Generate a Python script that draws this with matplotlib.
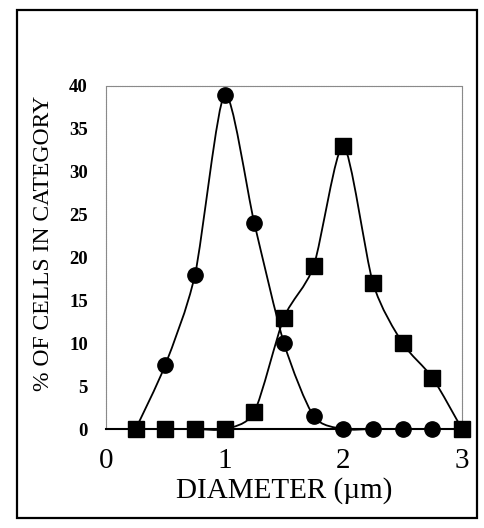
import numpy as np
import matplotlib.pyplot as plt
from matplotlib.path import Path
from matplotlib.patches import PathPatch, Rectangle

diameter = [0.25, 0.5, 0.75, 1.0, 1.25, 1.5, 1.75, 2.0, 2.25, 2.5, 2.75, 3.0]
pct_circles = [0, 7.5, 18, 39, 24, 10, 1.5, 0, 0, 0, 0, 0]
pct_squares = [0, 0, 0, 0, 2, 13, 19, 33, 17, 10, 6, 0]

x_ticks = [0, 1, 2, 3]
y_ticks = [0, 5, 10, 15, 20, 25, 30, 35, 40]

plt.rcParams["font.family"] = ["Liberation Serif", "DejaVu Serif"]


def smooth_path(xs, ys, k=8.0):
    # mild Catmull-Rom smoothing, like a spreadsheet "smoothed line"
    pts = np.column_stack([xs, ys]).astype(float)
    verts = [pts[0]]
    codes = [Path.MOVETO]
    n = len(pts)
    for i in range(n - 1):
        p0 = pts[i - 1] if i > 0 else pts[i]
        p1 = pts[i]
        p2 = pts[i + 1]
        p3 = pts[i + 2] if i + 2 < n else pts[i + 1]
        c1 = p1 + (p2 - p0) / k
        c2 = p2 - (p3 - p1) / k
        verts += [c1, c2, p2]
        codes += [Path.CURVE4] * 3
    return Path(verts, codes)


fig = plt.figure(figsize=(4.84, 5.28), dpi=100)
fig.patches.append(Rectangle((17 / 484, 10 / 528), 460 / 484, 508 / 528,
                             transform=fig.transFigure, fill=False,
                             edgecolor="black", linewidth=1.6))

ax = fig.add_axes([106 / 484, 1 - 429 / 528, 356 / 484, 343 / 528])
ax.set_xlim(0, 3)
ax.set_ylim(0, 40)

for ys, marker in [(pct_circles, "o"), (pct_squares, "s")]:
    ax.add_patch(PathPatch(smooth_path(diameter, ys), fill=False,
                           edgecolor="black", linewidth=1.3, clip_on=False))
    ax.plot(diameter, ys, linestyle="none", marker=marker, markersize=11,
            color="black", clip_on=False, zorder=3)

for side in ["left", "top", "right"]:
    ax.spines[side].set_color("#8a8a8a")
    ax.spines[side].set_linewidth(0.8)
    ax.spines[side].set_linestyle((0, (1, 0.6)))
ax.spines["bottom"].set_color("black")
ax.spines["bottom"].set_linewidth(1.5)

ax.set_xticks(x_ticks)
ax.set_xticklabels([str(t) for t in x_ticks], fontsize=21)
ax.set_yticks(y_ticks)
ax.set_yticklabels([str(t) for t in y_ticks], fontsize=13.5, fontweight="bold")
ax.tick_params(axis="both", length=0)
ax.tick_params(axis="x", pad=14)
ax.tick_params(axis="y", pad=13)

ax.set_xlabel("DIAMETER (\u00b5m)", fontsize=21, labelpad=2)
ax.set_ylabel("% OF CELLS IN CATEGORY", fontsize=17)
ax.yaxis.set_label_coords(-0.145, 0.54)

fig.savefig("out.png", dpi=100)
